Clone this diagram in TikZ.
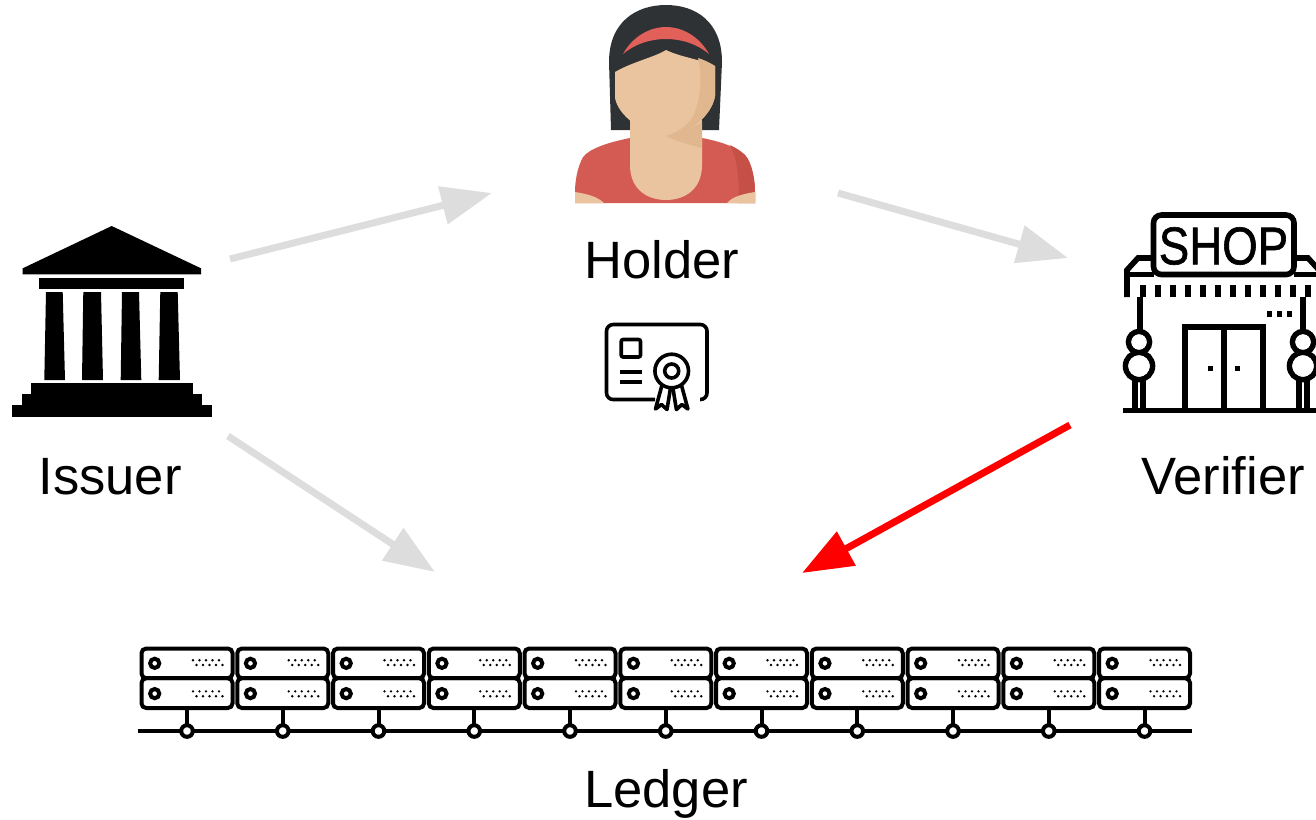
\documentclass[tikz,border=0pt]{standalone}
\usepackage{fontspec}
\setmainfont{Liberation Sans}
\newfontfamily\signfont[FakeBold=1.2]{Liberation Sans}
\usetikzlibrary{arrows.meta}
\definecolor{flowgray}{RGB}{221,221,221}
\definecolor{hair}{RGB}{47,50,53}
\definecolor{band}{RGB}{225,96,89}
\definecolor{skin}{RGB}{233,196,158}
\definecolor{skinshade}{RGB}{224,183,142}
\definecolor{shirt}{RGB}{212,91,83}
\definecolor{shirtshade}{RGB}{196,80,70}
\begin{document}
\begin{tikzpicture}[x=0.75pt,y=-0.75pt,
  roletext/.style={font=\fontsize{39.4}{47}\selectfont, anchor=base, inner sep=0pt},
  flow/.style={line width=5.25pt, draw=flowgray, -{Triangle[length=38pt,width=28pt,fill=flowgray]}},
  alertflow/.style={line width=5.25pt, draw=red, -{Triangle[length=38pt,width=28pt,fill=red]}},
  outline/.style={line width=4.2pt, line join=miter},
  certline/.style={line width=2.7pt},
  rackline/.style={line width=3pt},
]
\useasboundingbox (0,0) rectangle (1316,819);

% ---------- Issuer: bank building ----------
\begin{scope}[fill=black]
  \fill (22.7,268.3) -- (111.7,226) -- (201,268.3) -- (201,274.3) -- (22.7,274.3) -- cycle;
  \fill (39.3,278.3) rectangle (184,289.3);
  \fill (46,292) -- (62.7,292) -- (65,380) -- (44.3,380) -- cycle;
  \fill (83.3,292) -- (101,292) -- (103,380) -- (82,380) -- cycle;
  \fill (122,292) -- (139,292) -- (141.3,380) -- (120.7,380) -- cycle;
  \fill (160.3,292) -- (177.7,292) -- (180,380) -- (158.7,380) -- cycle;
  \fill (31,383.3) rectangle (192.7,394.5);
  \fill (21.7,394) rectangle (202.3,405.5);
  \fill (12.3,405) rectangle (211.7,416.7);
\end{scope}

% ---------- Holder: avatar ----------
% hair
\fill[hair] (611,130) -- (609,62) .. controls (609,22) and (636,5) .. (666,5)
  .. controls (696,5) and (722,22) .. (722,62) -- (719,130) -- cycle;
% neck
\fill[skin] (630,105) rectangle (702,145);
% face
\fill[skin] (615,72) .. controls (632,62) and (655,57) .. (666,50)
  .. controls (680,57) and (703,60) .. (715,66) -- (715,96)
  .. controls (712,115) and (690,134) .. (666,136)
  .. controls (642,134) and (618,115) .. (615,98) -- cycle;
\fill[skinshade] (698,58) .. controls (702,72) and (702,100) .. (692,118)
  .. controls (686,127) and (676,133) .. (666,136)
  .. controls (690,134) and (712,115) .. (715,96) -- (715,66)
  .. controls (709,62) and (704,60) .. (698,58) -- cycle;
% headband
\fill[band] (623,54) .. controls (633,36) and (650,27) .. (666,27)
  .. controls (682,27) and (699,36) .. (709,54)
  .. controls (697,44) and (682,39) .. (666,39)
  .. controls (650,39) and (635,44) .. (623,54) -- cycle;
% shirt
\fill[shirt] (630,138) .. controls (610,142) and (590,148) .. (583,157)
  .. controls (577,168) and (575,182) .. (575,192) -- (575,203) -- (755,203) -- (755,192)
  .. controls (755,180) and (752,163) .. (745,155)
  .. controls (735,146) and (718,141) .. (702,138) -- cycle;
\fill[shirtshade] (730,145) .. controls (738,160) and (740,185) .. (738,203) -- (755,203) -- (755,192)
  .. controls (755,180) and (752,163) .. (745,155)
  .. controls (741,151) and (736,148) .. (730,145) -- cycle;
% neckline
\fill[skin] (630,137) -- (630,165) .. controls (630,190) and (648,200) .. (666,200)
  .. controls (684,200) and (702,190) .. (702,165) -- (702,137) -- cycle;
\fill[skinshade] (666,136) .. controls (680,133) and (695,127) .. (702,122) -- (702,148)
  .. controls (690,145) and (676,141) .. (666,136) -- cycle;
% arms
\fill[skin] (575,192) .. controls (588,194) and (598,197) .. (604,203) -- (575,203) -- cycle;
\fill[skin] (755,192) .. controls (742,194) and (732,197) .. (727,203) -- (755,203) -- cycle;

% ---------- credential certificate ----------
\draw[certline, rounded corners=5pt] (655,399.5) -- (606.5,399.5) -- (606.5,324.5)
  -- (707,324.5) -- (707,399.5) -- (700,399.5);
\draw[certline, rounded corners=1.5pt] (621.2,339.5) rectangle (640.5,357);
\draw[certline] (620,371.7) -- (641.7,371.7);
\draw[certline] (620,381.7) -- (641.7,381.7);
\draw[certline, fill=white, line join=round] (662,385) -- (655.5,409) -- (661.5,404.5) -- (667,409.5) -- (670.5,388);
\draw[certline, fill=white, line join=round] (681.4,385) -- (687.9,409) -- (681.9,404.5) -- (676.4,409.5) -- (672.9,388);
\draw[certline, fill=white] (671.7,371) circle[radius=16.8];
\draw[certline] (671.7,371) circle[radius=7];

% ---------- Verifier: shop ----------
\begin{scope}
  \clip (1100,200) rectangle (1316,420);
  \draw[outline, rounded corners=6pt] (1153.5,215) rectangle (1294,274.5);
  \node[inner sep=0pt, font=\signfont\fontsize{39.8}{40}\selectfont] (shopsign) at (1223.5,246) {\scalebox{0.86}[1]{SHOP}};
  % awning
  \draw[outline] (1151.5,258) -- (1138,258) -- (1127,270) -- (1127,297);
  \draw[outline] (1296,258) -- (1308,258) -- (1319,270) -- (1319,297);
  \draw[outline] (1127,274.5) -- (1153.5,274.5);
  \draw[outline] (1294,274.5) -- (1320,274.5);
  \foreach \tx in {1143,1158,...,1308} \draw[outline] (\tx,285) -- (\tx,297);
  % walls
  \draw[outline] (1140,297) -- (1140,331);
  \draw[outline] (1303,297) -- (1303,331);
  % trees
  \foreach \tx in {1139,1303} {
    \draw[outline] (\tx,342) circle[radius=10.5];
    \draw[outline] (\tx,366) circle[radius=13.5];
    \fill[white] (\tx,342) circle[radius=7.7];
    \fill[white] (\tx,366) circle[radius=10.7];
    \draw[outline] (\tx-4,379) -- (\tx-4,410);
    \draw[outline] (\tx+4,379) -- (\tx+4,410);
  }
  % door
  \draw[outline] (1185,410) -- (1185,327) -- (1263,327) -- (1263,410);
  \draw[outline] (1224,327) -- (1224,410);
  \fill (1207.5,365.5) rectangle (1212.5,370.5);
  \fill (1234.5,365.5) rectangle (1239.5,370.5);
  \foreach \tx in {1269.5,1279.5,1289.5} \fill (\tx-2.8,311.2) rectangle (\tx+2.8,316.8);
  % ground
  \draw[outline] (1123,410.5) -- (1320,410.5);
\end{scope}

% ---------- Ledger: server rack ----------
\draw[rackline] (138,730.5) -- (1192,730.5);
\foreach \i in {0,...,10} {
  \pgfmathsetmacro\xl{139.5+95.75*\i}
  \pgfmathsetmacro\xr{\xl+95}
  \pgfmathsetmacro\xc{\xl+47.5}
  \draw[rackline, rounded corners=3.5pt] (\xl+2,648.5) rectangle (\xr-2,678.2);
  \draw[rackline, rounded corners=3.5pt] (\xl+2,678.2) rectangle (\xr-2,708);
  \draw[rackline] (\xl+15.2,663.3) circle[radius=4.6];
  \draw[rackline] (\xl+15.2,693.6) circle[radius=4.6];
  \foreach \k in {0,...,4} {
    \fill (\xl+53.5+6.5*\k,660.2) circle[radius=1.3];
    \fill (\xl+57+6.5*\k,665) circle[radius=1.3];
    \fill (\xl+53.5+6.5*\k,691.4) circle[radius=1.3];
    \fill (\xl+57+6.5*\k,696.2) circle[radius=1.3];
  }
  \draw[rackline] (\xc,708) -- (\xc,725);
  \draw[rackline, fill=white] (\xc,731) circle[radius=5.8];
}

% ---------- labels ----------
\node[roletext] (holder) at (662,278) {Holder};
\node[roletext] (issuer) at (110,494) {Issuer};
\node[roletext] (verifier) at (1223,494) {Verifier};
\node[roletext] (ledger) at (666,807) {Ledger};

% ---------- flows ----------
\coordinate (issuer-up) at (230,259);
\coordinate (holder-in) at (492,193);
\coordinate (holder-out) at (838,193);
\coordinate (verifier-in) at (1068,258);
\coordinate (issuer-down) at (228,436);
\coordinate (ledger-left) at (435,572);
\coordinate (verifier-down) at (1070,425);
\coordinate (ledger-right) at (802,573);
\draw[flow] (issuer-up) -- (holder-in);
\draw[flow] (holder-out) -- (verifier-in);
\draw[flow] (issuer-down) -- (ledger-left);
\draw[alertflow] (verifier-down) -- (ledger-right);
\end{tikzpicture}
\end{document}
